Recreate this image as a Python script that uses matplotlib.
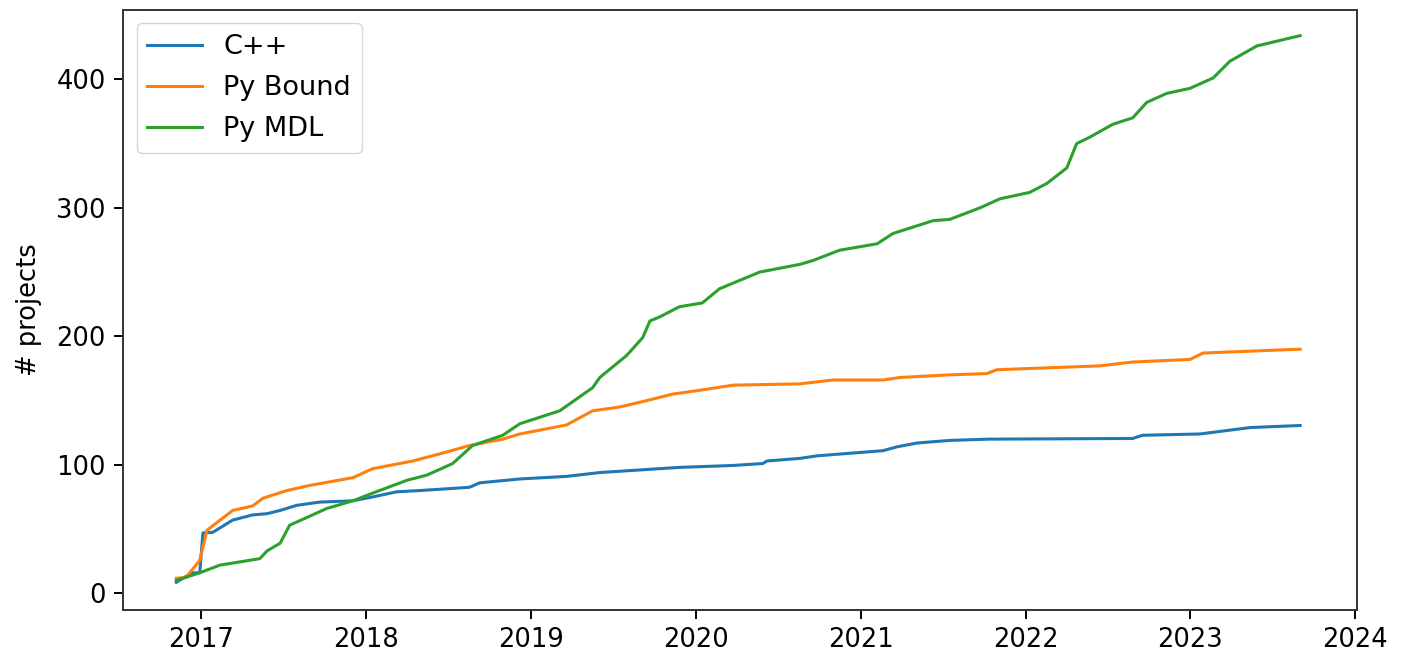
import matplotlib
matplotlib.use("Agg")
import matplotlib.pyplot as plt
import matplotlib.dates as mdates
import pandas as pd

cpp_dates = ["2016-11-07", "2016-12-12", "2016-12-29", "2017-01-05", "2017-01-27", "2017-03-12",
             "2017-04-25", "2017-05-27", "2017-06-25", "2017-08-01", "2017-09-21", "2017-12-03",
             "2018-01-16", "2018-03-10", "2018-05-01", "2018-08-18", "2018-09-10", "2018-12-08",
             "2019-03-21", "2019-06-03", "2019-11-26", "2020-03-24", "2020-05-29", "2020-06-07",
             "2020-08-19", "2020-09-26", "2020-12-08", "2021-02-19", "2021-03-22", "2021-05-06",
             "2021-07-17", "2021-10-14", "2022-08-26", "2022-09-17", "2023-01-22", "2023-05-13",
             "2023-09-01"]
cpp_values = [8.6, 16, 16, 47, 47.5, 57, 61, 62, 64.5, 68.5, 71, 72, 75, 79, 80, 82.5, 86, 89,
              91, 94, 98, 99.5, 101, 103, 105, 107, 109, 111, 114, 117, 119, 120, 120.5, 123,
              124, 129, 130.6]

pyb_dates = ["2016-11-07", "2016-11-29", "2016-12-29", "2017-01-14", "2017-02-12", "2017-03-12",
             "2017-04-25", "2017-05-18", "2017-07-10", "2017-08-30", "2017-12-03", "2018-01-16",
             "2018-04-15", "2018-06-29", "2018-08-18", "2018-10-31", "2018-12-08", "2019-03-21",
             "2019-05-18", "2019-07-17", "2019-09-15", "2019-11-11", "2020-01-10", "2020-03-24",
             "2020-08-19", "2020-10-31", "2021-02-19", "2021-03-29", "2021-07-17", "2021-10-07",
             "2021-10-29", "2022-06-14", "2022-08-26", "2022-12-31", "2023-01-29", "2023-09-01"]
pyb_values = [11.7, 12.5, 25.7, 49, 57, 64.5, 68, 74, 80, 84, 90, 97, 103, 110, 115, 120, 124,
              131, 142, 145, 150, 155, 158, 162, 163, 166, 166, 168, 170, 171, 174, 177, 180,
              182, 187, 190]

mdl_dates = ["2016-11-07", "2016-12-29", "2017-02-12", "2017-03-20", "2017-05-11", "2017-05-27",
             "2017-06-25", "2017-07-16", "2017-08-23", "2017-10-06", "2017-12-03", "2018-01-16",
             "2018-04-02", "2018-05-16", "2018-07-12", "2018-08-25", "2018-10-31", "2018-12-08",
             "2019-03-06", "2019-05-18", "2019-06-03", "2019-08-01", "2019-09-06", "2019-09-22",
             "2019-10-13", "2019-11-26", "2020-01-16", "2020-02-23", "2020-05-22", "2020-08-19",
             "2020-09-17", "2020-11-15", "2021-02-06", "2021-03-13", "2021-06-10", "2021-07-17",
             "2021-09-22", "2021-11-05", "2022-01-10", "2022-02-17", "2022-04-02", "2022-04-24",
             "2022-05-23", "2022-07-13", "2022-08-26", "2022-09-26", "2022-11-09", "2022-12-31",
             "2023-02-20", "2023-03-29", "2023-05-28", "2023-09-01"]
mdl_values = [10, 16, 22, 24, 27, 33, 39, 53, 59, 66, 72, 78, 88, 92, 101, 115, 123, 132,
              142, 160, 168, 185, 199, 212, 215, 223, 226, 237, 250, 256, 259, 267, 272, 280,
              290, 291, 300, 307, 312, 319, 331, 350, 355, 365, 370, 382, 389, 393, 401, 414,
              426, 434]

labels = ["C++", "Py Bound", "Py MDL"]
colors = ["#1f77b4", "#ff7f0e", "#2ca02c"]

fs = 18.5
plt.rcParams["font.family"] = ["DejaVu Sans"]
fig = plt.figure(figsize=(14.04, 6.53), dpi=100)
ax = fig.add_axes([0.0876, 0.0658, 0.879, 0.919])

series = [(cpp_dates, cpp_values), (pyb_dates, pyb_values), (mdl_dates, mdl_values)]
for (d, v), lab, c in zip(series, labels, colors):
    ax.plot(pd.to_datetime(d), v, color=c, lw=2.2, label=lab)

ax.xaxis.set_major_locator(mdates.YearLocator())
ax.xaxis.set_major_formatter(mdates.DateFormatter("%Y"))
ax.set_xlim(pd.Timestamp("2016-07-12"), pd.Timestamp("2024-01-05"))
ax.set_ylim(-13, 454)
ax.set_yticks([0, 100, 200, 300, 400])
ax.tick_params(labelsize=fs, length=6.5, width=1.4, pad=6)
for s in ax.spines.values():
    s.set_linewidth(1.4)
    s.set_edgecolor("#333333")
ax.set_ylabel("# projects", fontsize=fs, labelpad=10)
ax.legend(loc="upper left", fontsize=19.5, handlelength=2.0, labelspacing=0.55,
          borderaxespad=0.5)

fig.savefig("out.png", dpi=100)
